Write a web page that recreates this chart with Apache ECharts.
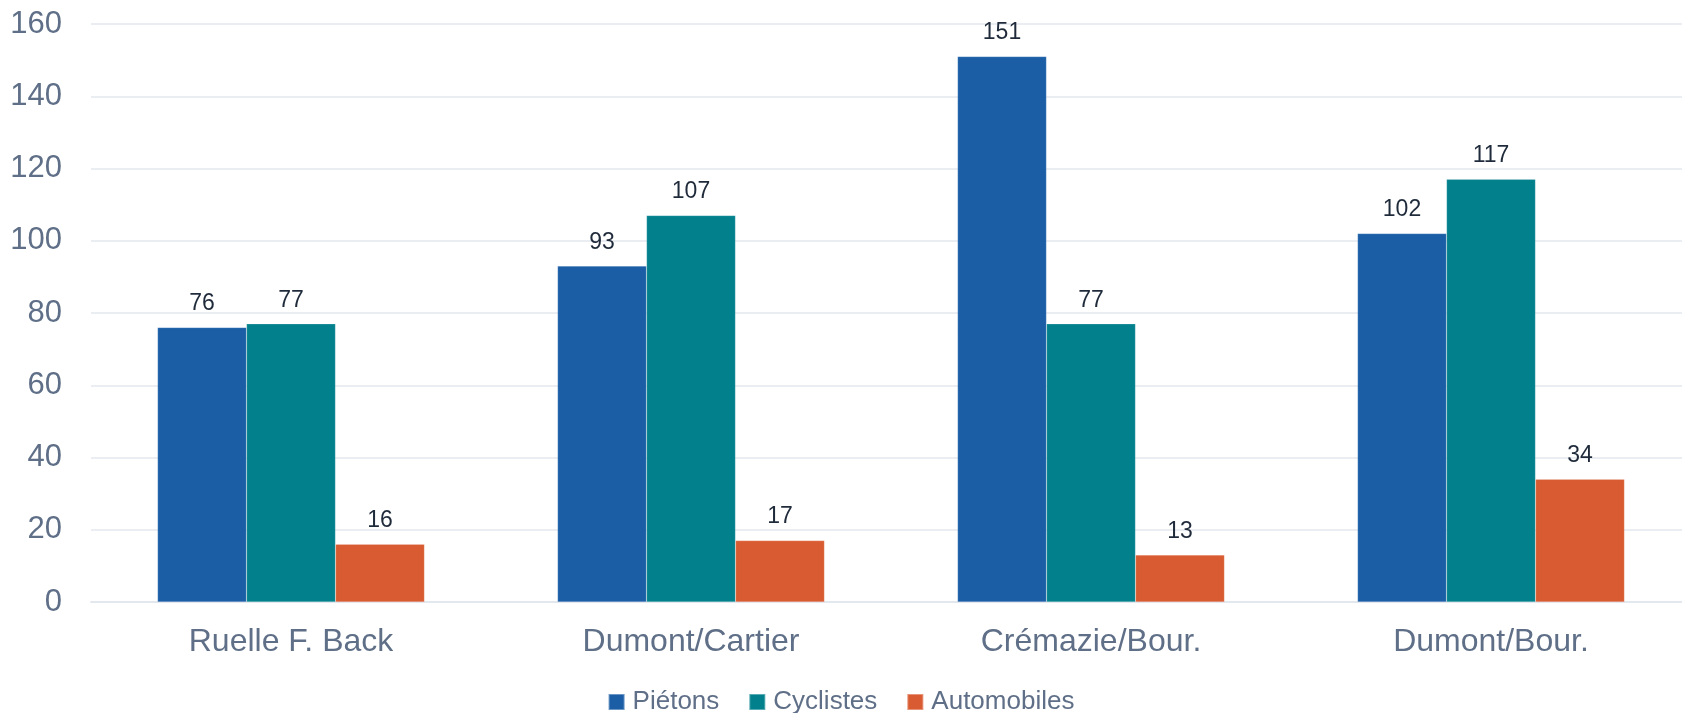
<!DOCTYPE html>
<html><head><meta charset="utf-8">
<script src="https://cdn.jsdelivr.net/npm/echarts@6/dist/echarts.min.js"></script>
<style>html,body{margin:0;padding:0;background:#fff}#c{width:1682px;height:713px}</style>
</head><body><div id="c"></div>
<script>
const categories = ['Ruelle F. Back', 'Dumont/Cartier', 'Crémazie/Bour.', 'Dumont/Bour.'];
const pietons = [76, 93, 151, 102];
const cyclistes = [77, 107, 77, 117];
const automobiles = [16, 17, 13, 34];
const seriesNames = ['Piétons', 'Cyclistes', 'Automobiles'];
const colors = ['#1B5EA6', '#02808C', '#D95B31'];

const chart = echarts.init(document.getElementById('c'));
const mk = (name, data, color) => ({
  name, type: 'bar', data, barWidth: 89, barGap: '0%',
  itemStyle: { color, borderColor: 'rgba(255,255,255,0.35)', borderWidth: 0.5 },
  label: { show: true, position: 'top', distance: 12, color: '#1f2a3a', fontSize: 23, fontFamily: 'Liberation Sans' }
});
chart.setOption({
  animation: false,
  grid: { left: 91, width: 1600, top: 24, bottom: 111, containLabel: false, outerBoundsMode: 'none' },
  legend: {
    top: 689, left: 'center', itemWidth: 16, itemHeight: 16, itemGap: 29, padding: 0,
    icon: 'rect', textStyle: { fontSize: 26, color: '#5f6f87', fontFamily: 'Liberation Sans', padding: [0, 0, 0, 3] },
    data: seriesNames
  },
  xAxis: {
    type: 'category', data: categories,
    axisLine: { show: true, lineStyle: { color: '#e3e7ee', width: 2 } },
    axisTick: { show: false },
    axisLabel: { fontSize: 32, color: '#5f6f87', margin: 24, fontFamily: 'Liberation Sans' }
  },
  yAxis: {
    type: 'value', min: 0, max: 160, interval: 20,
    axisLine: { show: false }, axisTick: { show: false },
    axisLabel: { fontSize: 31, color: '#5f6f87', margin: 29, fontFamily: 'Liberation Sans' },
    splitLine: { lineStyle: { color: '#e3e7ee', width: 1.5 } }
  },
  series: [mk(seriesNames[0], pietons, colors[0]), mk(seriesNames[1], cyclistes, colors[1]), mk(seriesNames[2], automobiles, colors[2])]
});
</script></body></html>
